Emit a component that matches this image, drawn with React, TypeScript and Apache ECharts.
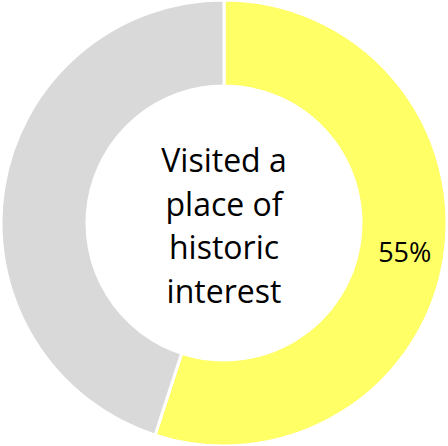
import React, { useEffect, useRef } from "react";
import * as echarts from "echarts";

const categories = ["Visited", "Not visited"];
const values = [55, 45];
const colors = ["#FFFF66", "#D9D9D9"];
const showLabel = [true, false];
const centerLines = ["Visited a", "place of", "historic", "interest"];

export default function App() {
  const ref = useRef<HTMLDivElement>(null);
  useEffect(() => {
    document.body.style.margin = "0";
    const chart = echarts.init(ref.current!, null, { renderer: "svg" });
    chart.setOption({
      animation: false,
      backgroundColor: "#ffffff",
      graphic: [
        {
          type: "text",
          x: 224,
          y: 225,
          style: {
            text: centerLines.join("\n"),
            font: '32px "Open Sans"',
            fill: "#000000",
            align: "center",
            verticalAlign: "middle",
            lineHeight: 43.5,
          },
        },
      ],
      series: [
        {
          type: "pie",
          center: [224, 223],
          radius: [137, 223],
          startAngle: 90,
          clockwise: true,
          silent: true,
          emphasis: { disabled: true },
          itemStyle: { borderColor: "#ffffff", borderWidth: 3 },
          labelLine: { show: false },
          data: categories.map((name, i) => ({
            name,
            value: values[i],
            itemStyle: { color: colors[i] },
            label: {
              show: showLabel[i],
              position: "inside",
              formatter: "{c}%",
              fontFamily: "Open Sans",
              fontSize: 27,
              color: "#000000",
            },
          })),
        },
      ],
    });
    return () => chart.dispose();
  }, []);
  return <div ref={ref} style={{ width: 448, height: 446 }} />;
}
